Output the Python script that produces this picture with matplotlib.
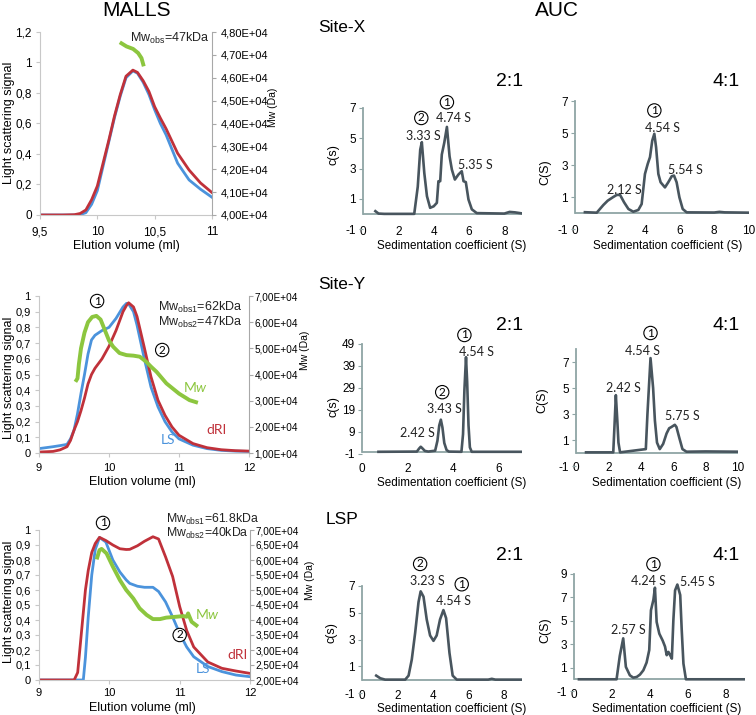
import matplotlib
matplotlib.use('Agg')
import matplotlib.pyplot as plt
from matplotlib.ticker import FuncFormatter

plt.rcParams['font.family'] = ['Liberation Sans', 'DejaVu Sans']
plt.rcParams['axes.unicode_minus'] = False
plt.rcParams['mathtext.fontset'] = 'custom'
plt.rcParams['mathtext.rm'] = 'Lato'
plt.rcParams['mathtext.it'] = 'Lato:italic'
plt.rcParams['mathtext.default'] = 'regular'

# ---------------- MALLS data ----------------
# Site-X
sx_vol = [9.5, 9.7, 9.8, 9.85, 9.9, 9.95, 10.0, 10.05, 10.1, 10.15, 10.2, 10.25, 10.31,
          10.35, 10.4, 10.45, 10.5, 10.55, 10.6, 10.7, 10.8, 10.9, 11.0]
sx_dri = [0, 0, 0.002, 0.01, 0.033, 0.1, 0.19, 0.34, 0.49, 0.65, 0.79, 0.91, 0.95,
          0.935, 0.88, 0.81, 0.71, 0.635, 0.565, 0.405, 0.295, 0.21, 0.147]
sx_ls = [0, 0, 0, 0.003, 0.015, 0.07, 0.16, 0.32, 0.48, 0.64, 0.78, 0.9, 0.945,
         0.93, 0.87, 0.79, 0.69, 0.6, 0.525, 0.34, 0.23, 0.169, 0.116]
sx_mw_vol = [10.196, 10.254, 10.312, 10.356, 10.385, 10.405]
sx_mw = [4.755e4, 4.737e4, 4.726e4, 4.708e4, 4.686e4, 4.65e4]

# Site-Y
sy_vol = [9.0, 9.2, 9.3, 9.4, 9.45, 9.5, 9.55, 9.6, 9.65, 9.7, 9.75, 9.8, 9.9, 10.0, 10.1,
          10.2, 10.25, 10.28, 10.35, 10.4, 10.5, 10.6, 10.7, 10.8, 10.9, 11.0, 11.2, 11.4,
          11.6, 11.8, 12.0]
sy_ls = [0.028, 0.04, 0.047, 0.055, 0.09, 0.145, 0.25, 0.38, 0.5, 0.63, 0.72, 0.75, 0.78,
         0.8, 0.857, 0.93, 0.953, 0.95, 0.9, 0.815, 0.61, 0.42, 0.294, 0.2, 0.134, 0.09,
         0.05, 0.028, 0.017, 0.012, 0.01]
sy_dri = [0.006, 0.01, 0.02, 0.04, 0.08, 0.145, 0.2, 0.27, 0.35, 0.44, 0.5, 0.54, 0.6,
          0.68, 0.78, 0.9, 0.94, 0.957, 0.93, 0.87, 0.68, 0.485, 0.336, 0.24, 0.166, 0.113,
          0.06, 0.034, 0.021, 0.015, 0.012]
sy_mw_vol = [9.52, 9.55, 9.57, 9.6, 9.65, 9.7, 9.76, 9.82, 9.88, 9.94, 10.0, 10.06, 10.15,
             10.25, 10.35, 10.44, 10.53, 10.6, 10.68, 10.82, 11.0, 11.15, 11.27]
sy_mw = [3.72e4, 3.85e4, 4.4e4, 5.0e4, 5.6e4, 6.0e4, 6.2e4, 6.24e4, 6.1e4, 5.7e4, 5.3e4,
         5.06e4, 4.82e4, 4.74e4, 4.72e4, 4.68e4, 4.49e4, 4.3e4, 4.1e4, 3.66e4, 3.27e4,
         3.02e4, 2.92e4]

# LSP
lsp_vol = [9.0, 9.5, 9.55, 9.6, 9.63, 9.66, 9.7, 9.75, 9.8, 9.86, 9.95, 10.05, 10.15, 10.24,
           10.29, 10.4, 10.5, 10.62, 10.7, 10.8, 10.9, 11.0, 11.1, 11.2, 11.4, 11.6, 11.8, 12.0]
lsp_dri = [0, 0, 0.05, 0.3, 0.45, 0.6, 0.73, 0.85, 0.91, 0.951, 0.93, 0.9, 0.875, 0.87,
           0.871, 0.895, 0.925, 0.955, 0.94, 0.82, 0.69, 0.49, 0.33, 0.22, 0.12, 0.078,
           0.06, 0.044]
lsp_ls = [0, 0, 0, 0, 0, 0.15, 0.42, 0.7, 0.87, 0.95, 0.92, 0.8, 0.72, 0.667, 0.644, 0.625,
          0.618, 0.618, 0.59, 0.52, 0.42, 0.31, 0.22, 0.155, 0.09, 0.056, 0.033, 0.022]
lsp_mw_vol = [9.82, 9.86, 9.89, 9.96, 10.05, 10.15, 10.24, 10.34, 10.43, 10.53, 10.62,
              10.72, 10.81, 10.96, 11.05, 11.1, 11.12, 11.17, 11.26]
lsp_mw = [6.02e4, 6.33e4, 6.37e4, 6.22e4, 5.78e4, 5.33e4, 5.0e4, 4.72e4, 4.39e4, 4.17e4,
          4.03e4, 4.03e4, 4.08e4, 4.11e4, 4.13e4, 4.11e4, 4.22e4, 3.94e4, 3.78e4]

# ---------------- AUC data ----------------
sx21_s = [0.7, 0.88, 1.2, 2.9, 3.1, 3.24, 3.33, 3.47, 3.62, 3.8, 4.0, 4.18, 4.27, 4.37,
          4.46, 4.6, 4.75, 4.9, 5.03, 5.2, 5.4, 5.59, 5.69, 5.82, 5.97, 6.16, 6.44, 8.0,
          8.3, 8.6, 9.0]
sx21_c = [0.18, 0.02, 0, 0, 1.8, 4.25, 4.74, 2.7, 1.17, 0.4, 0.5, 0.73, 2.16, 2.16,
          3.92, 4.7, 5.75, 3.8, 2.93, 2.27, 2.6, 2.82, 2.16, 2.1, 0.95, 0.3, 0.05, 0.02,
          0.13, 0.1, 0.03]

sx41_s = [0.57, 1.25, 1.63, 1.88, 2.2, 2.4, 2.59, 2.82, 3.07, 3.35, 3.64, 3.83, 4.02, 4.18,
          4.31, 4.44, 4.56, 4.66, 4.79, 4.92, 5.17, 5.36, 5.56, 5.69, 5.84, 6.0, 6.19, 6.42,
          8.0, 8.3, 8.6, 10.0]
sx41_c = [0.05, 0.02, 0.5, 0.77, 1.0, 1.13, 1.13, 0.67, 0.25, 0.08, 0.19, 0.56, 2.44,
          3.07, 3.49, 4.53, 4.95, 4.11, 2.44, 1.92, 1.6, 1.92, 2.3, 2.34, 1.92, 0.98, 0.25,
          0.04, 0.03, 0.07, 0.04, 0.02]

sy21_s = [0.72, 2.4, 2.5, 2.57, 2.65, 2.75, 2.9, 3.2, 3.3, 3.38, 3.45, 3.52, 3.6, 3.7,
          3.8, 4.35, 4.42, 4.48, 4.55, 4.6, 4.66, 4.72, 4.8, 6.97]
sy21_c = [0, 0.1, 1.5, 2.3, 1.5, 0.4, 0.1, 0.5, 5, 12, 14.6, 11, 4, 0.8, 0.1, 0, 8, 28,
          43, 32, 12, 2, 0, 0]

sy41_s = [0.62, 2.3, 2.38, 2.46, 2.55, 2.62, 2.72, 4.31, 4.41, 4.6, 4.76, 4.87, 5.0, 5.17,
          5.38, 5.59, 5.75, 5.89, 6.1, 6.2, 6.37, 6.57, 6.82, 8.0, 10.0]
sy41_c = [0.05, 0.05, 2.2, 4.45, 2.5, 0.8, 0.05, 0.3, 3.0, 7.3, 5.0, 2.5, 0.8, 0.3, 0.7,
          1.5, 1.9, 2.0, 2.17, 2.0, 1.2, 0.3, 0.1, 0.12, 0.1]

lsp21_s = [0.8, 1.03, 1.3, 2.43, 2.62, 2.8, 2.99, 3.18, 3.3, 3.46, 3.64, 3.83, 4.02, 4.2,
           4.39, 4.58, 4.73, 4.92, 5.1, 5.33, 7.1, 7.3, 7.5, 9.0]
lsp21_c = [0.3, 0.1, 0, 0, 0.3, 1.5, 3.5, 5.8, 6.6, 6.2, 4.5, 3.3, 2.9, 3.3, 4.5, 5.2,
           4.6, 2.0, 0.3, 0, 0, 0.06, 0, 0]

lsp41_s = [0.26, 2.24, 2.41, 2.59, 2.73, 2.94, 3.12, 3.3, 3.47, 3.65, 3.82, 3.96, 4.05,
           4.18, 4.26, 4.35, 4.49, 4.67, 4.79, 4.88, 4.97, 5.06, 5.15, 5.23, 5.32, 5.44,
           5.59, 5.67, 5.76, 5.89, 8.97]
lsp41_c = [0, 0, 2.0, 3.5, 1.06, 0.34, 0.14, 0.2, 0.4, 0.77, 1.43, 2.5, 5.9, 6.8, 7.83,
           4.9, 3.9, 3.3, 2.8, 2.06, 2.34, 2.06, 1.77, 5.06, 7.6, 8.1, 7.2, 4.2, 1.34, 0, 0]

RED = '#c0313a'
BLUE = '#4b93dc'
GREEN = '#8cc63f'
DARK = '#48555e'
AXC = '#8fa5a5'

W, H = 756, 715
fig = plt.figure(figsize=(W / 100, H / 100), dpi=100)


def rect(l, t, r, b):
    return [l / W, 1 - b / H, (r - l) / W, (b - t) / H]


def ftext(x, y, s, **kw):
    kw.setdefault('ha', 'center')
    kw.setdefault('va', 'center')
    fig.text(x / W, 1 - y / H, s, **kw)


def circled(ax, x, y, d):
    ax.text(x, y, d, ha='center', va='center', fontsize=8.5, family='Lato',
            bbox=dict(boxstyle='circle,pad=0.1', fc='white', ec='black', lw=0.8))


def comma(v, p):
    return f'{v:g}'.replace('.', ',')


def sci(v, p):
    return f'{v:.2E}'.replace('.', ',')


def malls_panel(box, vol, dri, ls, mw_vol, mw, xlim, xticks, ylim, yticks, mwlim, mwticks,
                fs, rfs, xpad, rpad):
    ax = fig.add_axes(rect(*box))
    ax2 = ax.twinx()
    ax.plot(vol, ls, color=BLUE, lw=2)
    ax.plot(vol, dri, color=RED, lw=2)
    ax2.plot(mw_vol, mw, color=GREEN, lw=2.8, solid_capstyle='butt')
    ax.set_xlim(*xlim)
    ax.set_ylim(*ylim)
    ax2.set_ylim(*mwlim)
    ax.set_xticks(xticks)
    ax.set_yticks(yticks)
    ax2.set_yticks(mwticks)
    ax.xaxis.set_major_formatter(FuncFormatter(comma))
    ax.yaxis.set_major_formatter(FuncFormatter(comma))
    ax2.yaxis.set_major_formatter(FuncFormatter(sci))
    for a in (ax, ax2):
        a.patch.set_visible(False)
        a.spines['top'].set_visible(False)
    ax.spines['right'].set_visible(False)
    ax2.spines['left'].set_visible(False)
    ax2.spines['bottom'].set_visible(False)
    ax.spines['left'].set_color('#c8c8c8')
    ax.spines['bottom'].set_color('#c8c8c8')
    ax2.spines['right'].set_color('#a8a8a8')
    ax.tick_params(axis='y', length=3, color='#c8c8c8', labelsize=fs, pad=3)
    ax.tick_params(axis='x', length=3, color='#c8c8c8', labelsize=fs, pad=xpad)
    ax2.tick_params(axis='y', length=3, color='#a8a8a8', labelsize=rfs, pad=rpad)
    return ax, ax2


def auc_panel(box, s, c, xmax, xticks, ylim, yticks, xpad):
    ax = fig.add_axes(rect(*box))
    ax.axhline(0, color=AXC, lw=1.3, zorder=1)
    ax.plot(s, c, color=DARK, lw=1.9, zorder=2, solid_joinstyle='round')
    ax.set_xlim(0, xmax)
    ax.set_ylim(*ylim)
    for k in ('top', 'right', 'bottom'):
        ax.spines[k].set_visible(False)
    ax.spines['left'].set_color(AXC)
    ax.spines['left'].set_linewidth(1.3)
    ax.spines['left'].set_bounds(0, ylim[1])
    ax.set_xticks(xticks)
    ax.set_yticks(yticks)
    ax.tick_params(axis='x', length=0, pad=xpad, labelsize=8.5)
    ax.tick_params(axis='y', length=3, color=AXC, labelsize=8.5, pad=2)
    return ax


def note(ax, x, y, s):
    ax.text(x, y, s, ha='center', va='center', fontsize=9, family='Lato', color='#222222')


def tag(ax, x, y, s, color):
    ax.text(x, y, s, color=color, fontsize=10, family='Lato', ha='center', va='center')


# ---------------- MALLS column ----------------
ax, ax2 = malls_panel((40, 32, 212, 215), sx_vol, sx_dri, sx_ls, sx_mw_vol, sx_mw,
                      (9.5, 11), [9.5, 10, 10.5, 11], (0, 1.2), [0, 0.2, 0.4, 0.6, 0.8, 1, 1.2],
                      (4.0e4, 4.8e4), [4.0e4 + i * 1e3 for i in range(9)], 8.5, 8, 5, 3)
ftext(130, 38, 'Mw$_{obs}$=47kDa', ha='left', fontsize=9, color='#222222')

ax, ax2 = malls_panel((39, 296, 249, 453), sy_vol, sy_dri, sy_ls, sy_mw_vol, sy_mw,
                      (9, 12), [9, 10, 11, 12], (0, 1), [i / 10 for i in range(11)],
                      (1.0e4, 7.0e4), [i * 1e4 for i in range(1, 8)], 8, 7.2, 4, 1)
circled(ax, 9.83, 0.968, '1')
circled(ax, 10.76, 0.656, '2')
tag(ax, 11.23, 0.42, 'M$\\mathit{w}$', GREEN)
tag(ax, 11.54, 0.146, 'dRI', RED)
tag(ax, 10.84, 0.083, 'LS', BLUE)
ftext(158, 307, 'Mw$_{obs1}$=62kDa', ha='left', fontsize=9, color='#222222')
ftext(158, 322, 'Mw$_{obs2}$=47kDa', ha='left', fontsize=9, color='#222222')

ax, ax2 = malls_panel((39, 530, 250, 680), lsp_vol, lsp_dri, lsp_ls, lsp_mw_vol, lsp_mw,
                      (9, 12), [9, 10, 11, 12], (0, 1), [i / 10 for i in range(11)],
                      (2.0e4, 7.0e4), [2.0e4 + i * 5e3 for i in range(11)], 8, 7.2, 3, 1)
circled(ax, 9.91, 1.047, '1')
circled(ax, 11.0, 0.3, '2')
tag(ax, 11.39, 0.44, 'M$\\mathit{w}$', GREEN)
tag(ax, 11.82, 0.167, 'dRI', RED)
tag(ax, 11.33, 0.073, 'LS', BLUE)
ftext(166, 519, 'Mw$_{obs1}$=61.8kDa', ha='left', fontsize=8.8, color='#222222')
ftext(166, 533, 'Mw$_{obs2}$=40kDa', ha='left', fontsize=8.8, color='#222222')

ftext(137, 10, 'MALLS', fontsize=15)
for yc in (123, 378, 602):
    ftext(9, yc, 'Light scattering signal', rotation=90, fontsize=9)
ftext(273, 107, 'Mw (Da)', rotation=90, fontsize=7.5)
ftext(305, 350, 'Mw (Da)', rotation=90, fontsize=7.5)
ftext(310, 580, 'Mw (Da)', rotation=90, fontsize=7.5)
ftext(126, 246, 'Elution volume (ml)', fontsize=9)
ftext(142, 482, 'Elution volume (ml)', fontsize=9)
ftext(142, 708, 'Elution volume (ml)', fontsize=9)

# ---------------- AUC columns ----------------
ax = auc_panel((363, 108, 522, 229), sx21_s, sx21_c, 9, [0, 2, 4, 6, 8], (-1, 7),
               [-1, 1, 3, 5, 7], -2.5)
note(ax, 3.39, 5.13, '3.33 S')
note(ax, 5.12, 6.34, '4.74 S')
note(ax, 6.35, 3.26, '5.35 S')
circled(ax, 3.3, 6.34, '2')
circled(ax, 4.75, 7.38, '1')

ax = auc_panel((575, 101, 749, 229), sx41_s, sx41_c, 10, [0, 2, 4, 6, 8, 10], (-1, 7),
               [-1, 1, 3, 5, 7], -3)
note(ax, 2.84, 1.44, '2.12 S')
note(ax, 5.04, 5.32, '4.54 S')
note(ax, 6.32, 2.69, '5.54 S')
circled(ax, 4.56, 6.41, '1')

ax = auc_panel((362, 344, 522, 454), sy21_s, sy21_c, 7, [0, 2, 4, 6], (-1, 49),
               [-1, 9, 19, 29, 39, 49], 6.5)
note(ax, 2.43, 8.5, '2.42 S')
note(ax, 3.61, 19.4, '3.43 S')
note(ax, 4.99, 45.5, '4.54 S')
circled(ax, 3.51, 27.1, '2')
circled(ax, 4.48, 53.1, '1')

ax = auc_panel((576, 349, 738, 466), sy41_s, sy41_c, 10, [0, 2, 4, 6, 8, 10], (-1, 8),
               [-1, 1, 3, 5, 7], -3)
note(ax, 2.92, 5.03, '2.42 S')
note(ax, 4.11, 7.83, '4.54 S')
note(ax, 6.57, 2.86, '5.75 S')
circled(ax, 4.6, 9.23, '1')

ax = auc_panel((362, 586, 522, 693), lsp21_s, lsp21_c, 9, [0, 2, 4, 6, 8], (-1, 7),
               [-1, 1, 3, 5, 7], -2.5)
note(ax, 3.7, 7.38, '3.23 S')
note(ax, 5.14, 5.88, '4.54 S')
circled(ax, 3.27, 8.65, '2')
circled(ax, 5.61, 7.13, '1')

ax = auc_panel((574, 574, 745, 691), lsp41_s, lsp41_c, 9, [0, 2, 4, 6, 8], (-1, 9),
               [-1, 1, 3, 5, 7, 9], -1.5)
note(ax, 2.85, 4.2, '2.57 S')
note(ax, 3.91, 8.4, '4.24 S')
note(ax, 6.5, 8.29, '5.45 S')
circled(ax, 4.18, 9.83, '1')

ftext(557, 10, 'AUC', fontsize=15)
ftext(342, 27, 'Site-X', fontsize=12.5)
ftext(342, 285, 'Site-Y', fontsize=12.5)
ftext(342, 520, 'LSP', fontsize=12.5)
for yc in (82, 325, 555):
    ftext(510, yc, '2:1', fontsize=14)
    ftext(726, yc, '4:1', fontsize=14)
for xc, yc, lab in ((333, 155, 'c(s)'), (545, 172, 'C(S)'), (333, 407, 'c(s)'),
                    (542, 400, 'C(S)'), (332, 633, 'c(s)'), (545, 630, 'C(S)')):
    ftext(xc, yc, lab, rotation=90, fontsize=9)
for xc, yc in ((452, 246), (668, 246), (452, 483), (667, 483), (452, 709), (667, 709)):
    ftext(xc, yc, 'Sedimentation coefficient (S)', fontsize=8.4)

fig.savefig('out.png', dpi=100)
